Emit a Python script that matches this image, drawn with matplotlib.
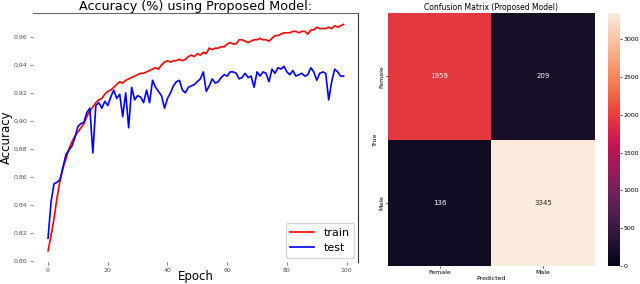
import matplotlib
matplotlib.use("Agg")
import matplotlib.pyplot as plt
import numpy as np
import seaborn as sns

# accuracy per epoch
train_acc = [0.807, 0.818, 0.830, 0.845, 0.857, 0.866, 0.873, 0.880, 0.885, 0.889,
             0.892, 0.895, 0.898, 0.903, 0.907, 0.910, 0.913, 0.915, 0.916, 0.919,
             0.921, 0.922, 0.924, 0.926, 0.928, 0.927, 0.929, 0.930, 0.931, 0.932,
             0.933, 0.934, 0.934, 0.935, 0.936, 0.937, 0.938, 0.937, 0.940, 0.942,
             0.943, 0.942, 0.943, 0.943, 0.944, 0.943, 0.944, 0.946, 0.947, 0.946,
             0.948, 0.947, 0.949, 0.948, 0.952, 0.951, 0.952, 0.952, 0.953, 0.953,
             0.955, 0.956, 0.955, 0.955, 0.958, 0.958, 0.957, 0.956, 0.957, 0.958,
             0.958, 0.959, 0.958, 0.958, 0.957, 0.959, 0.961, 0.961, 0.962, 0.963,
             0.963, 0.963, 0.964, 0.964, 0.963, 0.964, 0.964, 0.962, 0.965, 0.965,
             0.967, 0.966, 0.966, 0.966, 0.967, 0.966, 0.968, 0.967, 0.968, 0.969]
test_acc = [0.816, 0.842, 0.855, 0.856, 0.858, 0.867, 0.876, 0.879, 0.882, 0.888,
            0.896, 0.898, 0.899, 0.906, 0.909, 0.877, 0.911, 0.913, 0.909, 0.914,
            0.911, 0.917, 0.922, 0.916, 0.919, 0.903, 0.920, 0.895, 0.924, 0.915,
            0.918, 0.917, 0.913, 0.922, 0.913, 0.929, 0.924, 0.921, 0.918, 0.909,
            0.916, 0.920, 0.925, 0.928, 0.929, 0.922, 0.920, 0.924, 0.925, 0.926,
            0.928, 0.930, 0.935, 0.921, 0.925, 0.930, 0.927, 0.928, 0.931, 0.933,
            0.932, 0.935, 0.935, 0.934, 0.930, 0.931, 0.934, 0.931, 0.932, 0.924,
            0.935, 0.932, 0.935, 0.934, 0.928, 0.937, 0.934, 0.938, 0.937, 0.939,
            0.935, 0.933, 0.936, 0.932, 0.933, 0.934, 0.932, 0.933, 0.938, 0.935,
            0.929, 0.934, 0.935, 0.934, 0.915, 0.928, 0.937, 0.935, 0.932, 0.932]
epochs = np.arange(len(train_acc))

# confusion matrix
classes = ["Female", "Male"]
conf = np.array([[1959, 209],
                 [136, 3345]])

fig = plt.figure(figsize=(6.4, 2.84), dpi=100)

# accuracy curves
ax = fig.add_axes([0.052, 0.077, 0.508, 0.877])
ax.plot(epochs, train_acc, color='r', lw=1.2, label='train')
ax.plot(epochs, test_acc, color='b', lw=1.2, label='test')
ax.set_xticks([0, 20, 40, 60, 80, 100])
yt = np.arange(0.80, 0.961, 0.02)
ax.set_yticks(yt)
ax.set_yticklabels([f"{v:.2f}" for v in yt])
ax.tick_params(labelsize=4.5, length=2, width=0.5, pad=2, colors='0.3')
ax.spines['left'].set_visible(False)
ax.spines['bottom'].set_visible(False)
ax.spines['top'].set_color('0.4')
ax.spines['right'].set_color('0.2')
ax.set_title('Accuracy (%) using Proposed Model:', fontsize=9.2, pad=1)
ax.set_xlabel('Epoch', fontsize=8.5)
ax.xaxis.set_label_coords(0.5, -0.03)
ax.set_ylabel('Accuracy', fontsize=8.5, labelpad=1)
ax.legend(loc='lower right', fontsize=8, handlelength=2.2, borderaxespad=0.4)

# heatmap
hax = fig.add_axes([0.606, 0.063, 0.323, 0.891])
cax = fig.add_axes([0.95, 0.063, 0.019, 0.891])
sns.heatmap(conf, annot=True, fmt='d', vmin=0, ax=hax, cbar_ax=cax,
            xticklabels=classes, yticklabels=classes, annot_kws={'fontsize': 5})
hax.set_title('Confusion Matrix (Proposed Model)', fontsize=5.5, pad=2)
hax.set_xlabel('Predicted', fontsize=4.5, labelpad=1)
hax.set_ylabel('True', fontsize=4.5, labelpad=1)
hax.tick_params(labelsize=4.5, length=1.5, width=0.5, pad=1)
plt.setp(hax.get_yticklabels(), rotation=90, va='center')
cax.set_yticks([0, 500, 1000, 1500, 2000, 2500, 3000])
cax.tick_params(labelsize=4.5, length=1.5, width=0.5, pad=1)

fig.savefig('out.png', dpi=100)
